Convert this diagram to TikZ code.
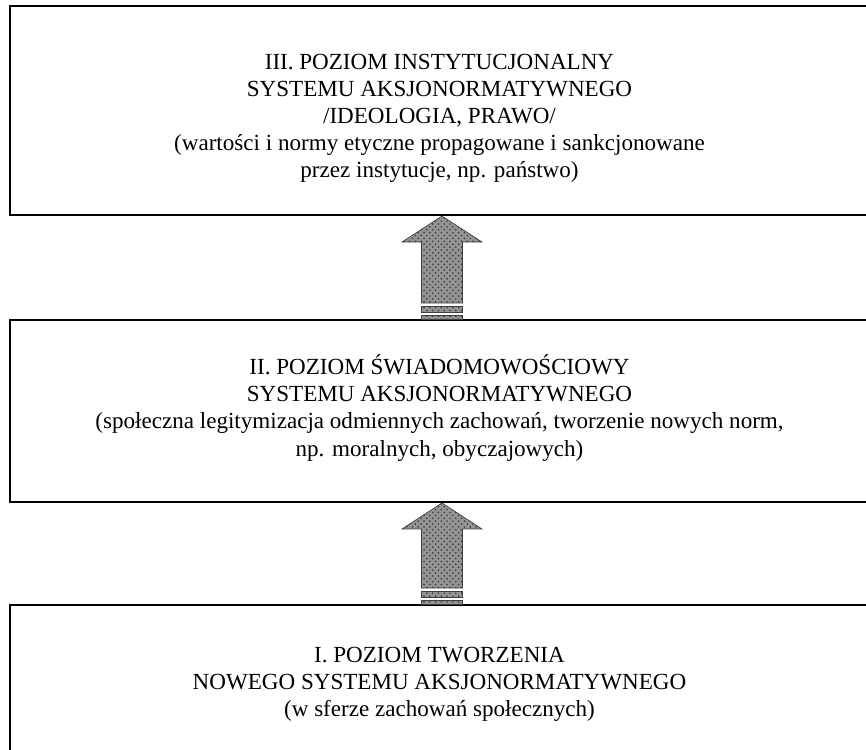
\documentclass[tikz,border=0pt]{standalone}
\usepackage{fontspec}
\setmainfont{Liberation Serif}
\usetikzlibrary{calc,patterns}
\tikzset{
  poziom/.style={draw,line width=1.05pt,inner sep=0pt,minimum width=446.7pt},
  tekst/.style={align=center,font=\fontsize{12}{14.1}\selectfont},
  strzalka/.style={draw=black!75,line width=0.35pt,fill=black!42,
    postaction={pattern=crosshatch dots,pattern color=black!75}}
}
\begin{document}
\begin{tikzpicture}[x=0.52pt,y=-0.52pt]
\useasboundingbox (0,0) rectangle (866,749);
\clip (0,0) rectangle (866,749);
% poziomy
\node[poziom,minimum height=108.7pt] (poziom3) at (439.5,110.5) {};
\node[poziom,minimum height=94.6pt] (poziom2) at (439.5,411) {};
\node[poziom,minimum height=85.8pt] (poziom1) at (439.5,687.5) {};
\node[tekst] (t3) at ($(poziom3.center)+(0,8)$) {III. POZIOM INSTYTUCJONALNY\\SYSTEMU AKSJONORMATYWNEGO\\/IDEOLOGIA, PRAWO/\\(wartości i normy etyczne propagowane i sankcjonowane\\przez instytucje, np. państwo)};
\node[tekst] (t2) at ($(poziom2.center)+(0,-3)$) {II. POZIOM ŚWIADOMOWOŚCIOWY\\SYSTEMU AKSJONORMATYWNEGO\\(społeczna legitymizacja odmiennych zachowań, tworzenie nowych norm,\\np. moralnych, obyczajowych)};
\node[tekst] (t1) at ($(poziom1.center)+(0,-3)$) {I. POZIOM TWORZENIA\\NOWEGO SYSTEMU AKSJONORMATYWNEGO\\(w sferze zachowań społecznych)};
% strzalki
\foreach \dol/\gora in {poziom2/poziom3,poziom1/poziom2}{
  \coordinate (tip) at ($(\gora.south)+(2.5,0)$);
  \coordinate (foot) at ($(\dol.north)+(2.5,0)$);
  \draw[strzalka] (tip) -- ++(40,26) -- ++(-19.5,0) -- ($(foot)+(20.5,-16)$) -- ++(-41,0)
    -- ($(tip)+(-20.5,26)$) -- ++(-19.5,0) -- cycle;
  \draw[strzalka] ($(foot)+(-20.5,-13)$) rectangle ($(foot)+(20.5,-7)$);
  \draw[strzalka] ($(foot)+(-20.5,-4)$) rectangle ($(foot)+(20.5,0)$);
}
\end{tikzpicture}
\end{document}
